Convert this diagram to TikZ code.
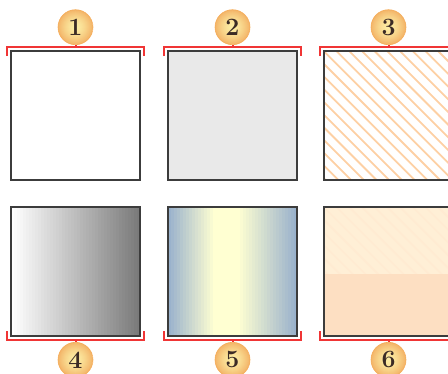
\documentclass[tikz,border=0pt]{standalone}
\usetikzlibrary{positioning}
\definecolor{boxline}{HTML}{3C3C3C}
\definecolor{brk}{HTML}{F03535}
\definecolor{badgein}{HTML}{FCEDA4}
\definecolor{badgeout}{HTML}{F3B468}
\definecolor{badgetext}{HTML}{3B2B25}
\definecolor{greyfill}{HTML}{E9E9E9}
\definecolor{hatch}{HTML}{FDD0A4}
\definecolor{steelblue}{HTML}{9AB2CC}
\definecolor{paleyellow}{HTML}{FFFFD2}
\definecolor{peachtop}{HTML}{FFEFD6}
\definecolor{peachlow}{HTML}{FDDFC2}
\definecolor{peachhatch}{HTML}{FFEBD2}
% diagonal hatching inside a path picture: #1 colour
\newcommand{\hatchlines}[1]{%
    \foreach \d in {-140,-127.3,...,140}
        \draw[#1,line width=1.8bp] ([xshift=\d bp]path picture bounding box.north west) -- ++(150,150);}
% vertical strips inside a path picture: share #1 (of strip \i, 0..42) of colour #2 mixed into #3
\newcommand{\ramp}[3]{%
    \foreach \i in {0,...,42}{
        \pgfmathsetmacro{\p}{#1}
        \fill[#2!\p!#3] ([xshift=\i*3bp]path picture bounding box.north west) rectangle ([xshift=\i*3bp+3.3bp]path picture bounding box.south west);}}

\begin{document}
\begin{tikzpicture}[x=1bp,y=-1bp,
        box/.style={draw=boxline,line width=2bp,minimum size=129bp,inner sep=0pt},
        badge/.style={circle,draw=badgeout!85!orange,line width=0.6bp,minimum size=35bp,inner sep=0pt,
            text=badgetext,font=\fontsize{25}{25}\selectfont\bfseries,
            path picture={\foreach \r in {17.5,17,...,0.5}{
                \pgfmathsetmacro{\p}{100*(\r/17.5)^1.6}
                \fill[badgeout!\p!badgein] (path picture bounding box.center) circle (\r bp);}}},
        bracket/.style={draw=brk,line width=2bp}]
        \useasboundingbox (0,0) rectangle (448,373);
        % upper row
        \node[box] (b1) at (75.5,115.5) {};
        \node[box,fill=greyfill,right=26bp of b1] (b2) {};
        \node[box,path picture={\hatchlines{hatch}},right=25bp of b2] (b3) {};
        % lower row
        \node[box,below=25bp of b1,path picture={\ramp{\i*52/42}{black}{white}}] (b4) {};
        \node[box,below=25bp of b2,path picture={\ramp{100*min(1,\i/15,(42-\i)/19)}{paleyellow}{steelblue}}] (b5) {};
        \node[box,fill=peachlow,below=25bp of b3,
            path picture={\fill[peachtop] (path picture bounding box.north west) rectangle ([yshift=-2bp]path picture bounding box.east);
                \begin{scope}
                \clip (path picture bounding box.north west) rectangle ([yshift=-2bp]path picture bounding box.east);
                \hatchlines{peachhatch}
                \end{scope}}] (b6) {};
        % brackets above
        \draw[bracket] ([shift={(-3,6)}]b1.north west) |- ([shift={(3,-3)}]b1.north east) -- ++(0,9);
        \draw[bracket] ([shift={(-3,6)}]b2.north west) |- ([shift={(3,-3)}]b2.north east) -- ++(0,9);
        \draw[bracket] ([shift={(-3,6)}]b3.north west) |- ([shift={(3,-3)}]b3.north east) -- ++(0,9);
        \coordinate (k1) at ([shift={(0,-3)}]b1.north);
        \coordinate (k2) at ([shift={(0,-3)}]b2.north);
        \coordinate (k3) at ([shift={(0,-3)}]b3.north);
        % brackets below
        \draw[bracket] ([shift={(-3,-6)}]b4.south west) |- ([shift={(3,3)}]b4.south east) -- ++(0,-9);
        \draw[bracket] ([shift={(-3,-6)}]b5.south west) |- ([shift={(3,3)}]b5.south east) -- ++(0,-9);
        \draw[bracket] ([shift={(-3,-6)}]b6.south west) |- ([shift={(3,3)}]b6.south east) -- ++(0,-9);
        \coordinate (k4) at ([shift={(0,3)}]b4.south);
        \coordinate (k5) at ([shift={(0,3)}]b5.south);
        \coordinate (k6) at ([shift={(0,3)}]b6.south);
        % numbered badges
        \node[badge,above=2bp of k1] (n1) {1};
        \node[badge,above=2bp of k2] (n2) {2};
        \node[badge,above=2bp of k3] (n3) {3};
        \node[badge,below=2bp of k4] (n4) {4};
        \node[badge,below=2bp of k5] (n5) {5};
        \node[badge,below=2bp of k6] (n6) {6};
        \draw[bracket] (k1) -- (n1);
        \draw[bracket] (k2) -- (n2);
        \draw[bracket] (k3) -- (n3);
        \draw[bracket] (k4) -- (n4);
        \draw[bracket] (k5) -- (n5);
        \draw[bracket] (k6) -- (n6);
    \end{tikzpicture}
\end{document}
